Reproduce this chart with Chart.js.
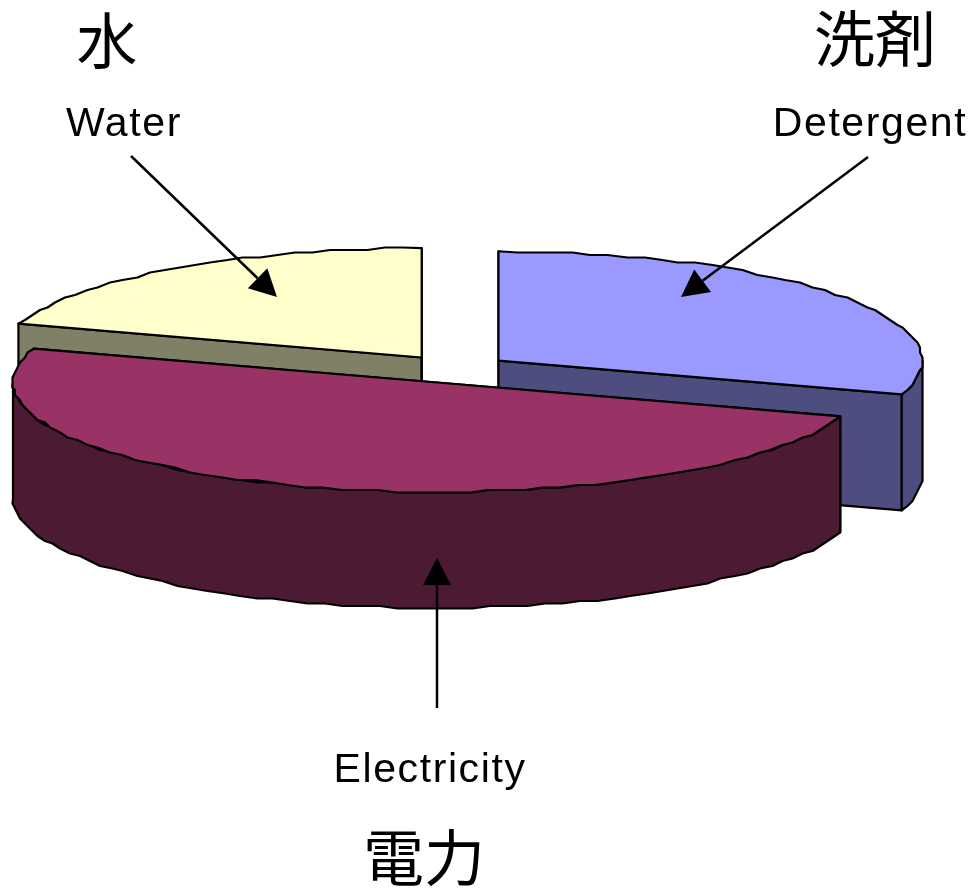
<!DOCTYPE html>
<html>
<head>
<meta charset="utf-8">
<title>Pie</title>
<script src="https://cdn.jsdelivr.net/npm/chart.js@4"></script>
<style>
  html, body { margin: 0; padding: 0; background: #fff; }
  canvas { display: block; }
</style>
</head>
<body>
<canvas id="pieChart" width="975" height="890"></canvas>
<script>
// Slices in clockwise order from the top of the pie
const categories = ["Detergent", "Electricity", "Water"];
const kanjiLabels = ["洗剤", "電力", "水"];
const shares = [30, 50, 20];
const topColors = ["#9999ff", "#993366", "#ffffcc"];
const wallColors = ["#4d4d80", "#4d1a33", "#808066"];

// Look of the tilted pie
const PIE_X = 454;
const PIE_Y = 369;
const TILT = 0.258;
const DEPTH = 116;
const RADIUS = 369;
const EXPLODE = 55;
const RIM_STEP = Math.PI / 72; // the rim is a coarse polygon, not a smooth curve
const RIM_GRID = 2.5;

// Where the captions and arrows go, same order as categories
const latinAnchors = [[870, 136], [430, 782], [124, 136]];
const kanjiAnchors = [[875, 62], [424, 881], [107, 64]];
const arrows = [[[868, 157], [681, 297]], [[437, 708], [437, 558]], [[131, 156], [277, 297]]];

function sliceGeometry(arc) {
  const off = arc.options.offset / 4;
  const mid = (arc.startAngle + arc.endAngle) / 2;
  const rx = arc.outerRadius + off;
  return {
    cx: PIE_X + Math.cos(mid) * off,
    cy: PIE_Y + Math.sin(mid) * off * TILT,
    rx: rx,
    ry: rx * TILT,
  };
}

// Points along the rim between two angles, snapped to a grid to get the stepped edge
function rimPoints(g, a0, a1, shift) {
  const pts = [];
  const n = Math.max(1, Math.round(Math.abs(a1 - a0) / RIM_STEP));
  for (let i = 0; i <= n; i++) {
    const a = a0 + (a1 - a0) * i / n;
    let x = g.cx + Math.cos(a) * g.rx;
    let y = g.cy + Math.sin(a) * g.ry;
    if (i > 0 && i < n) {
      x = Math.round(x / RIM_GRID) * RIM_GRID;
      y = Math.round(y / RIM_GRID) * RIM_GRID;
    }
    pts.push([x, y + shift]);
  }
  return pts;
}

function drawWalls(ctx, arc) {
  const g = sliceGeometry(arc);

  // the two cut faces of the slice
  [arc.startAngle, arc.endAngle].forEach(a => {
    const ex = g.cx + Math.cos(a) * g.rx;
    const ey = g.cy + Math.sin(a) * g.ry;
    ctx.beginPath();
    ctx.moveTo(g.cx, g.cy);
    ctx.lineTo(ex, ey);
    ctx.lineTo(ex, ey + DEPTH);
    ctx.lineTo(g.cx, g.cy + DEPTH);
    ctx.closePath();
    ctx.fill();
    ctx.stroke();
  });

  // rim, only the part that faces the viewer
  const a0 = Math.max(arc.startAngle, 0);
  const a1 = Math.min(arc.endAngle, Math.PI);
  if (a1 > a0) {
    const pts = rimPoints(g, a0, a1, 0).concat(rimPoints(g, a1, a0, DEPTH));
    ctx.beginPath();
    pts.forEach(p => ctx.lineTo(p[0], p[1]));
    ctx.closePath();
    ctx.fill();
    ctx.stroke();
  }
}

function drawTop(ctx, arc) {
  const g = sliceGeometry(arc);
  ctx.beginPath();
  ctx.moveTo(g.cx, g.cy);
  rimPoints(g, arc.startAngle, arc.endAngle, 0).forEach(p => ctx.lineTo(p[0], p[1]));
  ctx.closePath();
  ctx.fillStyle = arc.options.backgroundColor;
  ctx.fill();
  ctx.stroke();
}

function drawArrow(ctx, from, to) {
  const ang = Math.atan2(to[1] - from[1], to[0] - from[0]);
  const headLen = 27;
  const headHalf = 14;
  const bx = to[0] - Math.cos(ang) * headLen;
  const by = to[1] - Math.sin(ang) * headLen;
  ctx.lineWidth = 2.5;
  ctx.beginPath();
  ctx.moveTo(from[0], from[1]);
  ctx.lineTo(bx, by);
  ctx.stroke();
  ctx.beginPath();
  ctx.moveTo(to[0], to[1]);
  ctx.lineTo(bx - Math.sin(ang) * headHalf, by + Math.cos(ang) * headHalf);
  ctx.lineTo(bx + Math.sin(ang) * headHalf, by - Math.cos(ang) * headHalf);
  ctx.closePath();
  ctx.fill();
}

const pie3d = {
  id: "pie3d",
  beforeDatasetsDraw(chart) {
    const ctx = chart.ctx;
    const arcs = chart.getDatasetMeta(0).data;
    ctx.save();
    ctx.strokeStyle = "#000";
    ctx.lineWidth = 2.2;
    ctx.lineJoin = "round";
    // back slices first, the big front slice sits over them
    [0, 2, 1].forEach(i => {
      ctx.fillStyle = wallColors[i];
      drawWalls(ctx, arcs[i]);
      drawTop(ctx, arcs[i]);
    });
    ctx.restore();
    return false; // already drawn
  },
  afterDraw(chart) {
    const ctx = chart.ctx;
    ctx.save();
    ctx.fillStyle = "#000";
    ctx.strokeStyle = "#000";
    arrows.forEach(a => drawArrow(ctx, a[0], a[1]));
    ctx.textAlign = "center";
    ctx.textBaseline = "alphabetic";
    categories.forEach((name, i) => {
      ctx.font = '41px "Liberation Sans", sans-serif';
      ctx.letterSpacing = "1.6px";
      ctx.fillText(name, latinAnchors[i][0], latinAnchors[i][1]);
      ctx.font = '61px "Noto Sans CJK JP", sans-serif';
      ctx.letterSpacing = "0px";
      ctx.fillText(kanjiLabels[i], kanjiAnchors[i][0], kanjiAnchors[i][1]);
    });
    ctx.restore();
  },
};

new Chart(document.getElementById("pieChart").getContext("2d"), {
  type: "pie",
  data: {
    labels: categories,
    datasets: [{
      data: shares,
      backgroundColor: topColors,
      borderWidth: 0,
      offset: EXPLODE * 4, // Arc moves by offset / 4
    }],
  },
  options: {
    responsive: false,
    animation: false,
    radius: RADIUS,
    plugins: {
      legend: { display: false },
      tooltip: { enabled: false },
    },
  },
  plugins: [pie3d],
});
</script>
</body>
</html>
